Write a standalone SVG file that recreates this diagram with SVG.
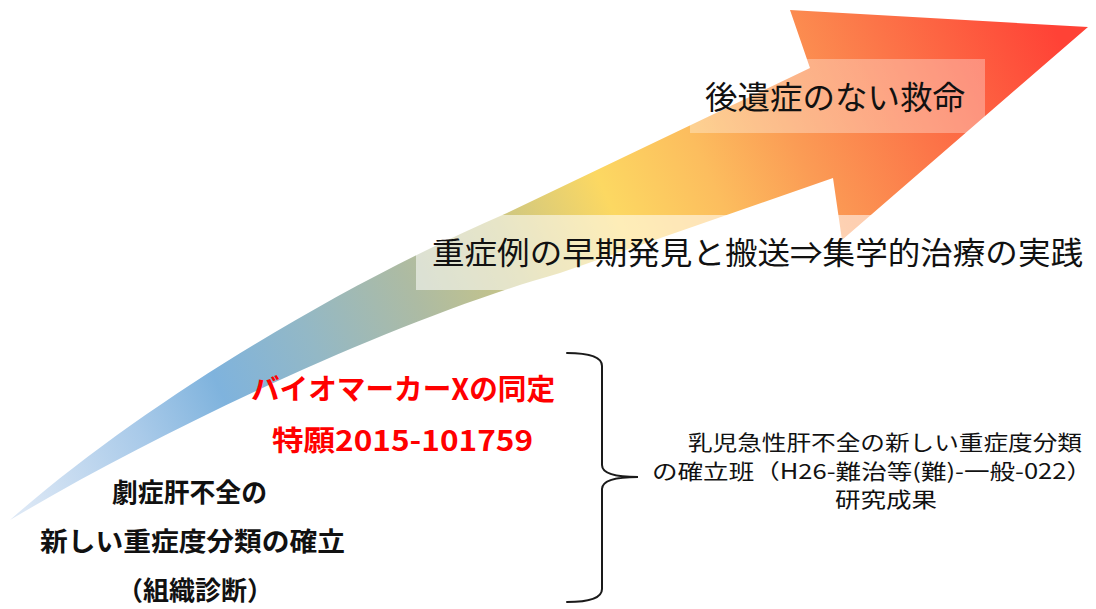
<svg xmlns="http://www.w3.org/2000/svg" width="1096" height="609" viewBox="0 0 1096 609">
  <style>
    .jp { font-family: "Noto Sans CJK JP", "Noto Sans", sans-serif; }
    .reg { font-weight: 400; fill: #111111; }
    .bold { font-weight: 700; fill: #111111; }
    .red { font-weight: 700; fill: #ff0000; }
    .brace { fill: none; stroke: #1a1a1a; stroke-width: 2; stroke-linecap: round; }
  </style>
  <defs>
    <linearGradient id="arrowGrad" gradientUnits="userSpaceOnUse" x1="30" y1="520" x2="1060" y2="40">
      <stop offset="0" stop-color="#dbe7f5"/>
      <stop offset="0.12" stop-color="#a9cae9"/>
      <stop offset="0.2" stop-color="#7fb3dd"/>
      <stop offset="0.29" stop-color="#93b8c6"/>
      <stop offset="0.39" stop-color="#adbba3"/>
      <stop offset="0.48" stop-color="#c9c585"/>
      <stop offset="0.58" stop-color="#fcd862"/>
      <stop offset="0.67" stop-color="#fcbd5e"/>
      <stop offset="0.75" stop-color="#fb9c55"/>
      <stop offset="0.86" stop-color="#fc7448"/>
      <stop offset="1" stop-color="#ff4236"/>
    </linearGradient>
  </defs>
  <rect width="1096" height="609" fill="#ffffff"/>

  <g id="arrow">
    <path d="M10,520 C140,405 340,285 507,213 L810,68 L790,10 L1088,27 L842,240 L833,178 L560,273 C400,318 170,425 10,520 Z" fill="url(#arrowGrad)"/>
  </g>

  <g id="node-goal">
    <rect x="690" y="59" width="295" height="74" fill="#ffffff" fill-opacity="0.32"/>
    <text class="jp reg" x="705" y="109" font-size="32" textLength="260" lengthAdjust="spacingAndGlyphs">後遺症のない救命</text>
  </g>

  <g id="node-practice">
    <rect x="416" y="215" width="674" height="75" fill="#ffffff" fill-opacity="0.55"/>
    <text class="jp reg" x="432" y="264" font-size="31" textLength="651" lengthAdjust="spacingAndGlyphs">重症例の早期発見と搬送⇒集学的治療の実践</text>
  </g>

  <g id="node-biomarker">
    <text class="jp red" x="251" y="400" font-size="29" textLength="304" lengthAdjust="spacingAndGlyphs">バイオマーカーXの同定</text>
    <text class="jp red" x="272" y="451" font-size="28" textLength="261" lengthAdjust="spacingAndGlyphs">特願2015-101759</text>
  </g>

  <g id="node-classification">
    <text class="jp bold" x="112" y="502" font-size="26" textLength="155" lengthAdjust="spacingAndGlyphs">劇症肝不全の</text>
    <text class="jp bold" x="40" y="551" font-size="26" textLength="305" lengthAdjust="spacingAndGlyphs">新しい重症度分類の確立</text>
    <text class="jp bold" x="195" y="600" font-size="26" text-anchor="middle">（組織診断）</text>
  </g>

  <g id="node-research">
    <text class="jp reg" x="688" y="450" font-size="21" textLength="394" lengthAdjust="spacingAndGlyphs">乳児急性肝不全の新しい重症度分類</text>
    <text class="jp reg" x="652" y="479" font-size="21" textLength="440" lengthAdjust="spacingAndGlyphs">の確立班（H26-難治等(難)-一般-022）</text>
    <text class="jp reg" x="835" y="507" font-size="21" textLength="102" lengthAdjust="spacingAndGlyphs">研究成果</text>
  </g>

  <g id="connectors">
    <path class="brace" d="M567,353 Q602,353 602,366 L602,465 Q602,477 638,477 Q602,477 602,489 L602,589 Q602,602 567,602"/>
  </g>
</svg>
